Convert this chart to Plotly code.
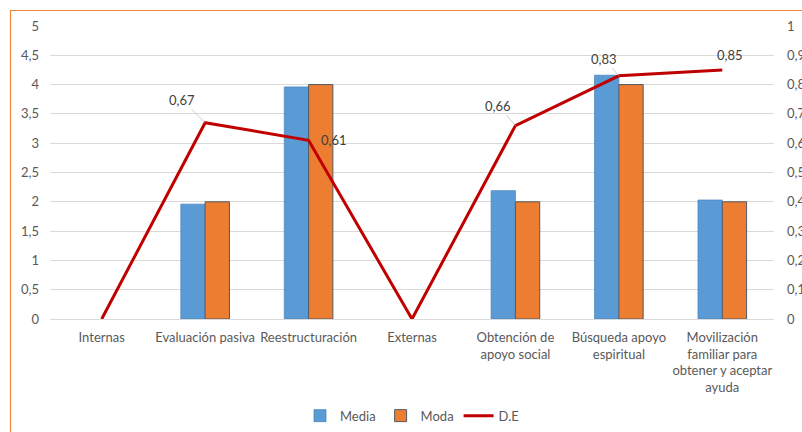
import plotly.graph_objects as go

categorias = [
    "Internas",
    "Evaluación pasiva",
    "Reestructuración",
    "Externas",
    "Obtención de<br>apoyo social",
    "Búsqueda apoyo<br>espiritual",
    "Movilización<br>familiar para<br>obtener y aceptar<br>ayuda",
]
media = [None, 1.96, 3.96, None, 2.19, 4.16, 2.03]
moda = [None, 2.0, 4.0, None, 2.0, 4.0, 2.0]
desv = [0, 0.67, 0.61, 0, 0.66, 0.83, 0.85]

TXT = "#595959"
FONT = "Lato"
FS = 13

fig = go.Figure()
fig.add_trace(go.Bar(
    x=categorias, y=media, name="Media",
    marker=dict(color="#5B9BD5", line=dict(color="#4F88BE", width=0.8)),
))
fig.add_trace(go.Bar(
    x=categorias, y=moda, name="Moda",
    marker=dict(color="#ED7D31", line=dict(color="#4E5A66", width=1)),
))
fig.add_trace(go.Scatter(
    x=categorias, y=desv, name="D.E", yaxis="y2", mode="lines",
    line=dict(color="#C00000", width=3),
))

# value labels for the D.E line, with offsets (px) for each label
offsets = [None, (-23, -23, True), (25, 0, False), None,
           (-17, -20, True), (-15, -17, True), (8, -15, False)]
for cat, v, off in zip(categorias, desv, offsets):
    if off is None:
        continue
    dx, dy, leader = off
    txt = f"{v:.2f}".replace(".", ",")
    if leader:
        fig.add_annotation(
            x=cat, y=v, xref="x", yref="y2", text=txt,
            showarrow=True, arrowhead=0, arrowwidth=0.8, arrowcolor="#BFBFBF",
            ax=dx, ay=dy, standoff=0,
            font=dict(family=FONT, size=FS, color="#404040"),
        )
    else:
        fig.add_annotation(
            x=cat, y=v, xref="x", yref="y2", text=txt, showarrow=False,
            xshift=dx, yshift=-dy,
            font=dict(family=FONT, size=FS, color="#404040"),
        )

# chart border
fig.add_shape(
    type="rect", xref="paper", yref="paper",
    x0=-0.0546, x1=1.1, y0=-0.6, y1=1.0529,
    line=dict(color="#F0883A", width=1.2), fillcolor="rgba(0,0,0,0)", layer="below",
)

fig.update_layout(
    width=802, height=432,
    margin=dict(l=50, r=28, t=26, b=113, autoexpand=False),
    paper_bgcolor="white", plot_bgcolor="white",
    separators=",.",
    barmode="group", bargap=0.53, bargroupgap=0,
    font=dict(family=FONT, size=FS, color=TXT),
    showlegend=True,
    legend=dict(orientation="h", x=0.5, xanchor="center", y=-0.33, yanchor="middle",
                font=dict(family=FONT, size=FS, color=TXT), itemwidth=30,
                traceorder="normal"),
    xaxis=dict(
        showgrid=False, showline=True, linecolor="#D9D9D9", linewidth=1,
        tickfont=dict(family=FONT, size=FS, color=TXT), ticks="",
        tickangle=0, automargin=False, ticklabelstandoff=6,
    ),
    yaxis=dict(
        range=[0, 5], dtick=0.5, tick0=0, showgrid=True, gridcolor="#D9D9D9",
        gridwidth=1, zeroline=False, showline=False, ticks="",
        ticklabelstandoff=10, automargin=False,
        tickfont=dict(family=FONT, size=FS, color=TXT),
    ),
    yaxis2=dict(
        range=[0, 1], dtick=0.1, tick0=0, overlaying="y", side="right",
        showgrid=False, zeroline=False, showline=False, ticks="",
        ticklabelstandoff=12, automargin=False,
        tickfont=dict(family=FONT, size=FS, color=TXT),
    ),
)

fig.write_html("out.html")
